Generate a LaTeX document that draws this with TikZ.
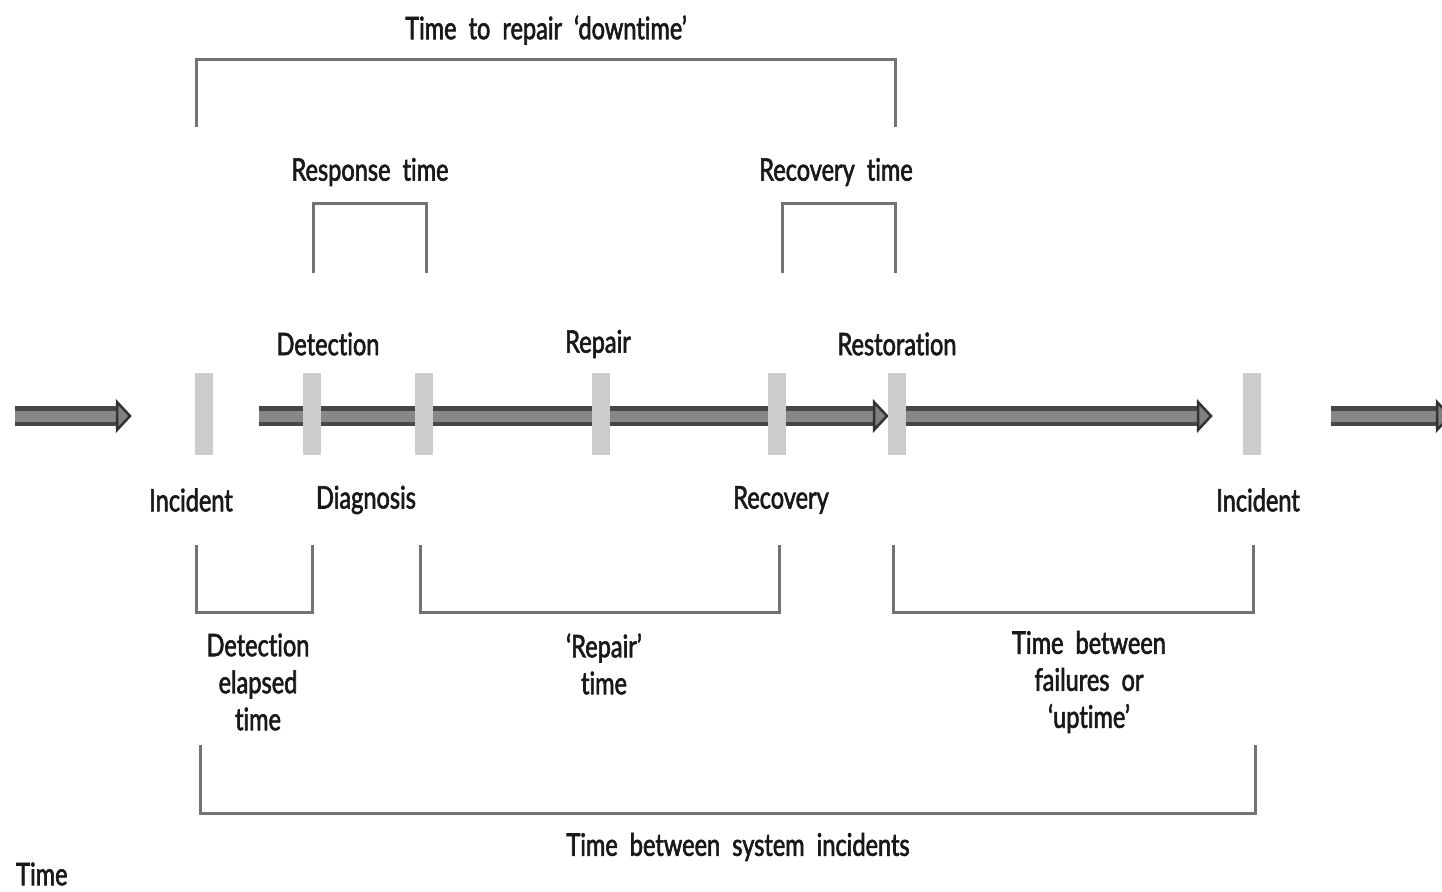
\documentclass[tikz,border=0pt]{standalone}
\usepackage{fontspec}
\setmainfont{Lato}[FakeStretch=0.76, FakeBold=2, RawFeature=-liga]
\begin{document}
\begin{tikzpicture}[x=1pt,y=-1pt,
  lbl/.style={font=\fontsize{31}{37}\selectfont, text=black!90, inner sep=0pt, align=center},
  tickbar/.style={fill=black!20, minimum width=18pt, minimum height=82pt, inner sep=0pt, draw=none},
  brk/.style={draw=black!55, line width=3pt},
  bar/.style={draw=black!72, line width=20pt, postaction={draw=black!47, line width=11pt}},
  head/.style={fill=black!50, draw=black!80, line width=2.5pt, line join=miter},
]
\useasboundingbox (0,0) rectangle (1442,891);

% timeline segments
\coordinate (s1) at (15,416);   \coordinate (e1) at (130,416);
\coordinate (s2) at (259,416);  \coordinate (e2) at (887,416);
\coordinate (s3) at (906,416);  \coordinate (e3) at (1211,416);
\coordinate (s4) at (1331,416); \coordinate (e4) at (1450,416);
\foreach \s/\e in {s1/e1, s2/e2, s3/e3, s4/e4}{
  \draw[bar] (\s) -- ([xshift=-11pt]\e);
  \filldraw[head] ([xshift=-13pt,yshift=-14pt]\e) -- (\e) -- ([xshift=-13pt,yshift=14pt]\e) -- cycle;
}

% event markers
\node[tickbar] (inc1) at (204,414) {};
\node[tickbar] (det)  at (312,414) {};
\node[tickbar] (dia)  at (424,414) {};
\node[tickbar] (rep)  at (601,414) {};
\node[tickbar] (rec)  at (777,414) {};
\node[tickbar] (res)  at (897,414) {};
\node[tickbar] (inc2) at (1252,414) {};

% event labels
\node[lbl] (lDet) at (328,344) {Detection};
\node[lbl] (lRep) at (598,344) {Repair};
\node[lbl] (lRes) at (897,344) {Restoration};
\node[lbl] (lInc1) at (191,500) {Incident};
\node[lbl] (lDia) at (366,500) {Diagnosis};
\node[lbl] (lRec) at (781,500) {Recovery};
\node[lbl] (lInc2) at (1258,500) {Incident};

% interval brackets above the line
\node[lbl] (tDown) at (546,30) {Time\ \ to\ \ repair\ \ ‘downtime’};
\coordinate (d1) at (196,127); \coordinate (d2) at (895,127);
\draw[brk] (d1) -- (196,60) -- (895,60) -- (d2);

\node[lbl] (tResp) at (370,172) {Response\ \ time};
\coordinate (r1) at (313,273); \coordinate (r2) at (426,273);
\draw[brk] (r1) -- (313,203) -- (426,203) -- (r2);

\node[lbl] (tRecov) at (836,172) {Recovery\ \ time};
\coordinate (v1) at (782,273); \coordinate (v2) at (895,273);
\draw[brk] (v1) -- (782,203) -- (895,203) -- (v2);

% interval brackets below the line
\coordinate (q1) at (196,545); \coordinate (q2) at (312,545);
\draw[brk] (q1) -- (196,612) -- (312,612) -- (q2);
\node[lbl] (tDetEl) at (258,682) {Detection\\elapsed\\time};

\coordinate (p1) at (420,545); \coordinate (p2) at (779,545);
\draw[brk] (p1) -- (420,612) -- (779,612) -- (p2);
\node[lbl] (tRepT) at (604,664) {‘Repair’\\time};

\coordinate (u1) at (893,545); \coordinate (u2) at (1253,545);
\draw[brk] (u1) -- (893,612) -- (1253,612) -- (u2);
\node[lbl] (tUp) at (1089,682) {Time\ \ between\\failures\ \ or\\‘uptime’};

\coordinate (w1) at (200,745); \coordinate (w2) at (1255,745);
\draw[brk] (w1) -- (200,813) -- (1255,813) -- (w2);
\node[lbl] (tSys) at (738,847) {Time\ \ between\ \ system\ \ incidents};

\node[lbl, anchor=west] (tTime) at (16,874) {Time};
\end{tikzpicture}
\end{document}
